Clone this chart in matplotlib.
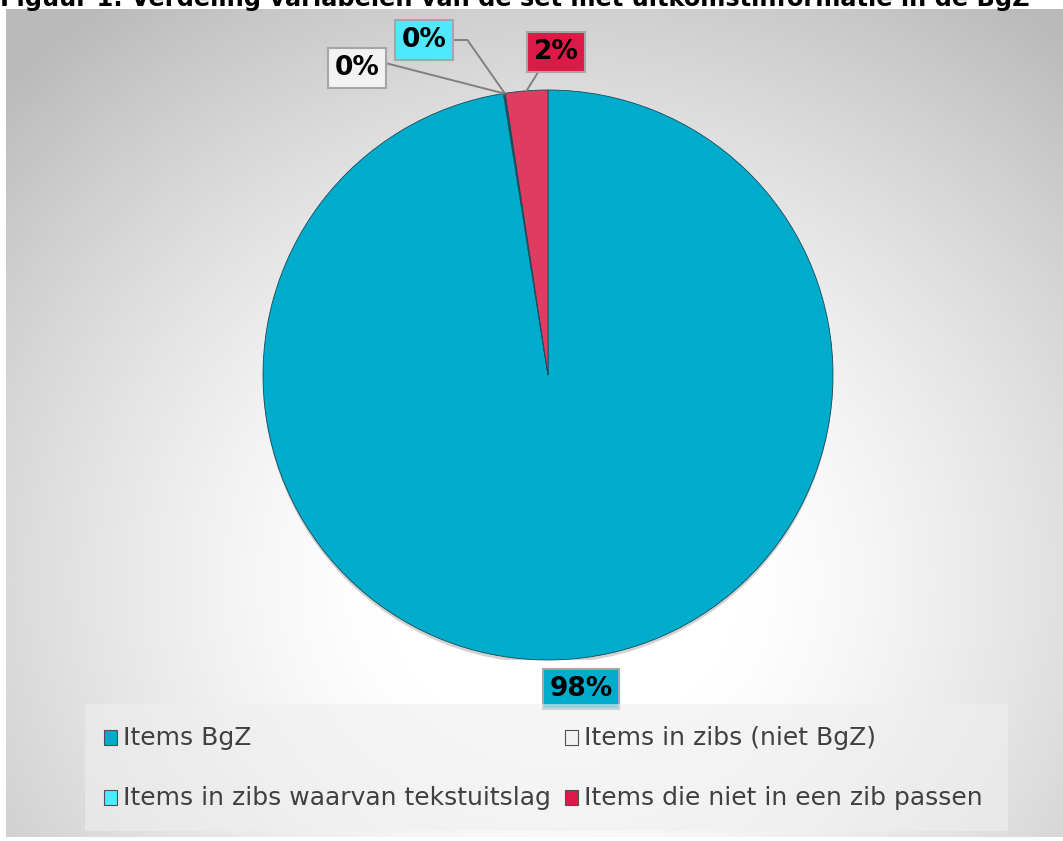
import numpy as np
import matplotlib
matplotlib.use("Agg")
import matplotlib.pyplot as plt
from matplotlib.patches import Rectangle, Circle

# data
labels = ['Items BgZ', 'Items in zibs (niet BgZ)',
          'Items in zibs waarvan tekstuitslag', 'Items die niet in een zib passen']
values = [97.5, 0.05, 0.05, 2.4]
slice_colors = ['#00ACCB', '#F2F2F2', '#4FE8FF', '#E03C62']
box_colors = ['#00ACCB', '#F2F2F2', '#4FE8FF', '#DC1A48']
title = 'Figuur 1: Verdeling variabelen van de set met uitkomstinformatie in de BgZ'

W, H = 1063, 841
fig = plt.figure(figsize=(W / 100, H / 100), dpi=100)
fig.patch.set_facecolor('white')

# achtergrond met radiaal verloop
bg = fig.add_axes([6 / W, 4 / H, (W - 6) / W, (837 - 9) / H])
bg.set_axis_off()
yy, xx = np.mgrid[9:837, 6:W]
r = np.hypot(xx - 560, (yy - 580) * 1.1)
shade = 1 - 0.27 * np.clip((r - 180) / 600, 0, 1) ** 1.3
img = np.dstack([shade, shade, shade])
bg.imshow(img, aspect='auto', interpolation='bilinear')

fig.text(0, 1 - 6 / H, title, fontsize=17.3, fontweight='bold', va='baseline', ha='left')

# pie
cx, cy, rad = 548, 375, 285
ax = fig.add_axes([(cx - rad) / W, (H - cy - rad) / H, 2 * rad / W, 2 * rad / H])
ax.set_axis_off()
ax.add_patch(Circle((0.0, -0.012), 1.0, fc='#808080', ec='none', alpha=0.35, zorder=0))
wedges, _ = ax.pie(values, colors=slice_colors, startangle=90, counterclock=False,
                   wedgeprops=dict(edgecolor='#1a4a5a', linewidth=0.6))
ax.set_xlim(-1, 1)
ax.set_ylim(-1, 1)

def px(x, y):
    return ((x - cx) / rad, (cy - y) / rad)

total = sum(values)
# label positions in pixels of the reference
label_pos = [(581, 689), (357, 68), (424, 40), (556, 52)]
relpos = [None, (1.0, 0.75), (1.0, 0.5), (0.2, 0.0)]
conn = [None, 'arc3', 'angle,angleA=0,angleB=-55,rad=0', 'arc3']
zs = [5, 4, 6, 5]
for w, v, bc, pos, rp, cs, z in zip(wedges, values, box_colors, label_pos, relpos, conn, zs):
    pct = '{:.0f}%'.format(v / total * 100)
    ang = np.deg2rad((w.theta1 + w.theta2) / 2)
    edge = (np.cos(ang), np.sin(ang))
    tx, ty = px(*pos)
    arrow = None
    if rp is not None:
        arrow = dict(arrowstyle='-', color='#808080', lw=1.4, shrinkA=0, shrinkB=0,
                     relpos=rp, connectionstyle=cs)
    ax.annotate(pct, xy=edge, xytext=(tx, ty), ha='center', va='center',
                fontsize=19, fontweight='bold', color='black', zorder=z,
                bbox=dict(boxstyle='square,pad=0.25', fc=bc, ec='#A6A6A6', lw=1.5),
                arrowprops=arrow, annotation_clip=False)

# legend
fig.patches.append(Rectangle((85 / W, (H - 831) / H), (1008 - 85) / W, (831 - 704) / H,
                             transform=fig.transFigure, fc='#EFEFEF', alpha=0.6, ec='none'))
leg_pos = [(104, 738), (565, 738), (104, 798), (565, 798)]
for lab, c, (lx, ly) in zip(labels, box_colors, leg_pos):
    fig.patches.append(Rectangle((lx / W, (H - ly - 7) / H), 13 / W, 15 / H,
                                 transform=fig.transFigure, fc=c, ec='#505050', lw=0.8))
    fig.text((lx + 19) / W, (H - ly) / H, lab, fontsize=18, color='#404040',
             va='center', ha='left')

fig.savefig('out.png', dpi=100)
